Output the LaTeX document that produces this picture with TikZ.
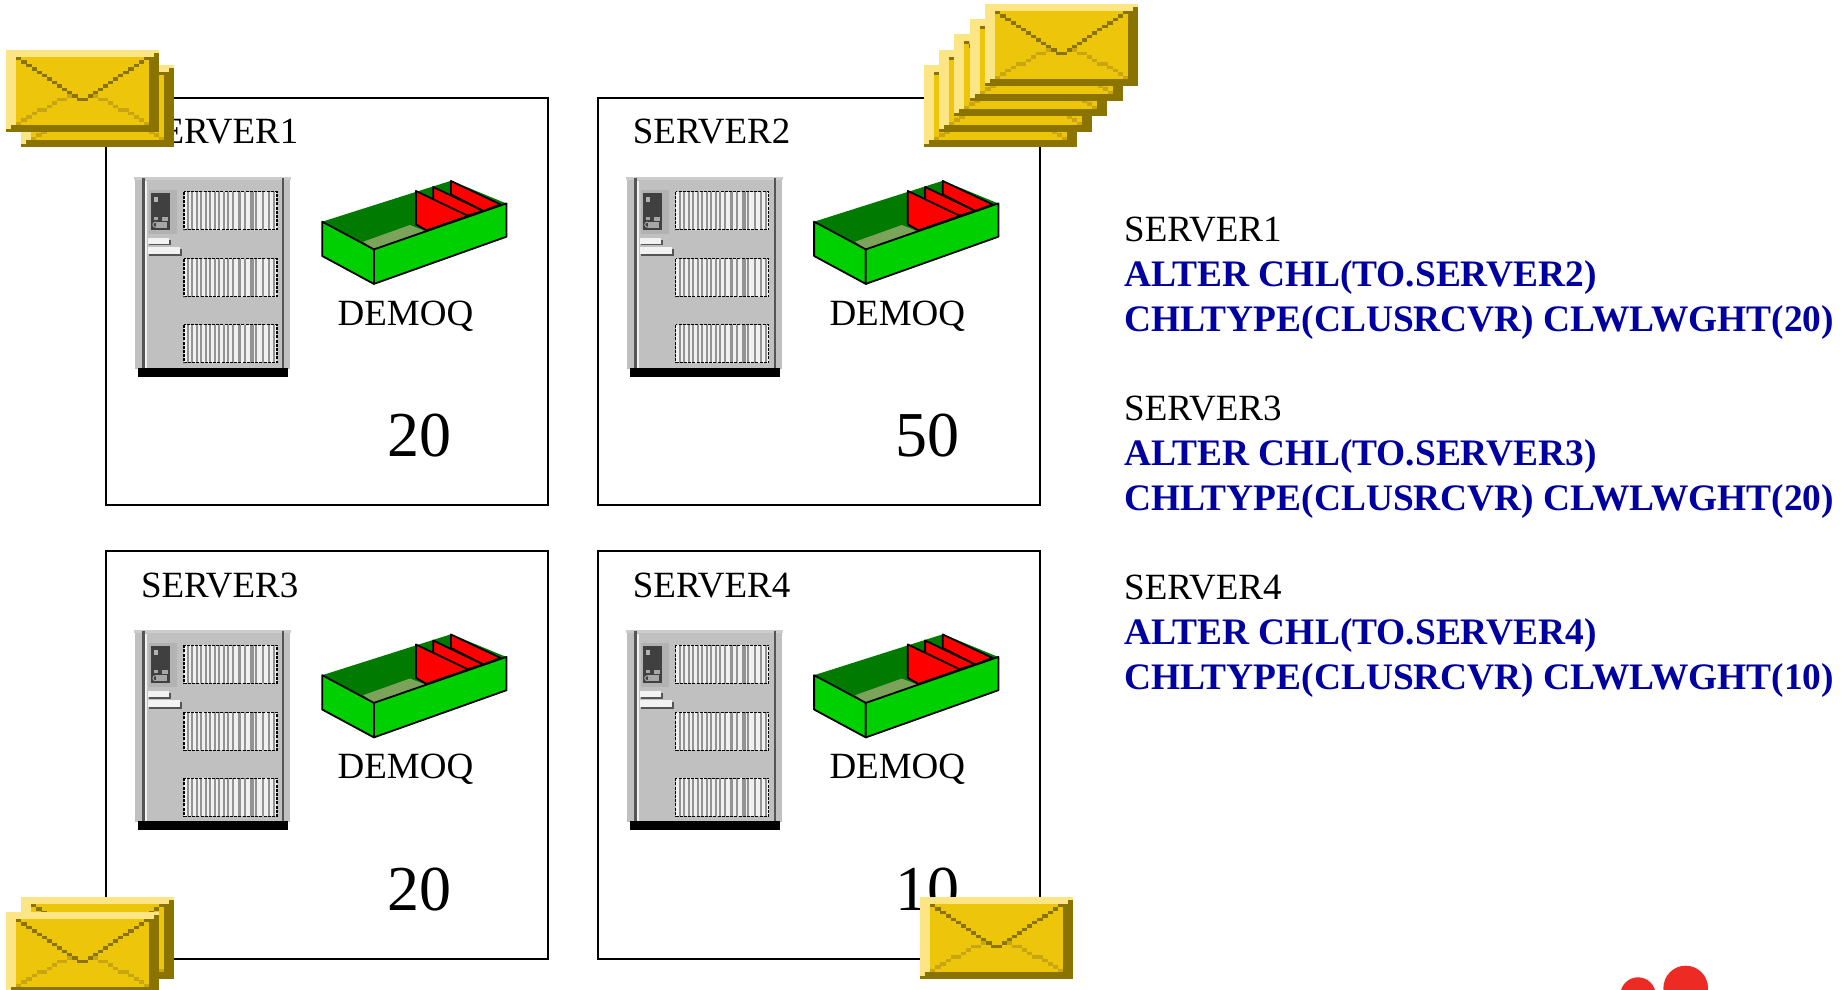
\documentclass[tikz,border=0pt]{standalone}
\usepackage{fontspec}
\setmainfont{Liberation Serif}
\definecolor{envlight}{HTML}{FBE585}
\definecolor{envfill}{HTML}{EDC60B}
\definecolor{envdark}{HTML}{8B7300}
\definecolor{envmid}{HTML}{C9A512}
\definecolor{srvgray}{HTML}{C0C0C0}
\definecolor{srvdark}{HTML}{555555}
\definecolor{traygreen}{HTML}{00D000}
\definecolor{traydark}{HTML}{007A00}
\definecolor{trayfloor}{HTML}{7CA35A}
\definecolor{chlblue}{HTML}{0000A0}
\definecolor{dotred}{HTML}{EE2A24}
\tikzset{
  boxframe/.style={draw=black,line width=2pt,fill=none,inner sep=0pt,anchor=north west,minimum width=442pt,minimum height=407.5pt},
  lbl/.style={inner sep=0pt,anchor=base west,font=\fontsize{37}{40}\selectfont},
  bignum/.style={inner sep=0pt,anchor=base west,font=\fontsize{64}{66}\selectfont},
  blue/.style={inner sep=0pt,anchor=base west,text=chlblue,font=\fontsize{37.4}{40}\selectfont\bfseries},
  trayedge/.style={draw=black,line width=1.8pt,line join=round}
}
\newcommand{\epx}[3]{\fill[#3] ({#1*5.1},{#2*3.42}) rectangle ({(#1+1)*5.1+0.1},{(#2+1)*3.42+0.1});}
\newcommand{\envelope}[2]{%
\begin{scope}[shift={(#1,#2)}]
  \fill[envfill] (0,0) rectangle (153,82.08);
  \fill[envlight] (0,0) rectangle (153,6.84);
  \fill[envlight] (0,0) rectangle (10.2,82.08);
  \fill[envdark] (142.8,6.84) rectangle (153,82.08);
  \fill[envdark] (147.9,3.42) rectangle (153,6.84);
  \fill[envdark] (5.1,75.24) rectangle (153,82.08);
  \fill[envdark] (0,78.66) rectangle (10,82.08);
  \foreach \c in {2,...,13}{\pgfmathtruncatemacro{\m}{29-\c}\epx{\c}{\c}{envdark}\epx{\m}{\c}{envdark}}
  \epx{14}{14}{envdark}\epx{15}{14}{envdark}
  \foreach \c/\r in {12/13,10/14,11/14,9/15,8/16,6/17,7/17,5/18,4/19,3/20,2/21}{\pgfmathtruncatemacro{\m}{29-\c}\epx{\c}{\r}{envmid}\epx{\m}{\r}{envmid}}
\end{scope}}
\newcommand{\grill}[2]{%
\begin{scope}[shift={(#1,#2)}]
  \fill[white!88!gray] (0,0) rectangle (93,38);
  \foreach \g in {3,7.5,12,16.5,21,25.5,30,34.5,39,43.5,48,60,71.5,78,84,89}{\fill[gray!85] (\g,0) rectangle ++(1.8,38);}
  \fill[gray!85] (54,0) rectangle ++(3.5,38);
  \fill[gray!85] (66,0) rectangle ++(4,38);
  \draw[black,line width=1.3pt,dash pattern=on 3pt off 1.2pt] (0,0) rectangle (93,38);
\end{scope}}
\newcommand{\server}[2]{%
\begin{scope}[shift={(#1,#2)}]
  \fill[gray!40] (0,0) rectangle (157,3);
  \fill[srvgray] (1,3) rectangle (155.5,192);
  \fill[black] (3.5,191) rectangle (154,200);
  \fill[srvdark] (8,1) rectangle (10.5,191);
  \fill[white!90!gray] (10.5,4) rectangle (12.5,191);
  \fill[srvdark] (147.5,1) rectangle (150,191);
  \fill[gray!60] (15,13) rectangle (43,57);
  \fill[srvdark!75!black] (17,16) rectangle (36,53);
  \fill[gray!60] (20,20) rectangle (24,25);
  \fill[gray!70] (28,40) rectangle (34,44);
  \fill[gray!70] (20,40) rectangle (24,43);
  \fill[gray!70] (22,45) rectangle (33,51);
  \draw[gray!70,line width=1pt] (21,48) circle (2.5);
  \fill[srvdark] (15,63) rectangle (36.5,68.5);
  \fill[white!90!gray] (14,61) rectangle (35,67);
  \fill[srvdark] (15,72) rectangle (47.5,79);
  \fill[white!90!gray] (14,70) rectangle (46,77);
  \grill{49.5}{15}\grill{49.5}{82}\grill{49.5}{148}
\end{scope}}
\newcommand{\tray}[2]{%
\begin{scope}[shift={(#1,#2)}]
  \fill[traydark] (0,20) -- (129,-21) -- (184,1.7) -- (52,48) -- cycle;
  \fill[trayfloor] (41,40) -- (87.7,23.3) -- (102.7,29.3) -- (51.7,47.7) -- cycle;
  \filldraw[trayedge,fill=red] (128.7,-20.7) -- (178.3,2.7) -- (161,9.3) -- (128.7,-7.3) -- cycle;
  \filldraw[trayedge,fill=red] (111,-14.7) -- (161,9.3) -- (144.3,14.3) -- (111,-0.7) -- cycle;
  \filldraw[trayedge,fill=red] (93.7,-10.7) -- (146,14.3) -- (104.3,28.7) -- (93.7,22.7) -- cycle;
  \filldraw[trayedge,fill=traygreen] (0,20) -- (51.7,47.7) -- (51.7,82.2) -- (0,54.3) -- cycle;
  \filldraw[trayedge,fill=traygreen] (51.7,47.7) -- (184.3,1.7) -- (184.3,35) -- (51.7,82.2) -- cycle;
\end{scope}}
\newcommand{\srvblock}[6]{% name, x, y, label, number, number-offset
  \server{#2+29.6}{#3+80.2}
  \tray{#2+217.4}{#3+105.2}
  \node[boxframe] (#1) at (#2,#3) {};
  \node[lbl] (#1label) at (#2+36,#3+47.2) {#4};
  \node[lbl] (#1queue) at (#2+232.6,#3+228.7) {DEMOQ};
  \node[bignum] (#1weight) at (#2+#6,#3+360.2) {#5};
}
\begin{document}
\begin{tikzpicture}[x=1pt,y=-1pt]
  \useasboundingbox (0,0) rectangle (1847,990);
  \clip (0,0) rectangle (1847,990);
  \fill[white] (0,0) rectangle (1847,990);
  \srvblock{serverone}{104.8}{96.5}{SERVER1}{20}{282}
  \srvblock{servertwo}{596.7}{96.5}{SERVER2}{50}{298.5}
  \srvblock{serverthree}{104.8}{550}{SERVER3}{20}{282}
  \srvblock{serverfour}{596.7}{550}{SERVER4}{10}{298.5}
  \node[lbl] (t1) at (1124,241.8) {SERVER1};
  \node[blue] (t2) at (1124,286.8) {ALTER CHL(TO.SERVER2)};
  \node[blue] (t3) at (1124,331) {CHLTYPE(CLUSRCVR) CLWLWGHT(20)};
  \node[lbl] (t4) at (1124,420.8) {SERVER3};
  \node[blue] (t5) at (1124,465) {ALTER CHL(TO.SERVER3)};
  \node[blue] (t6) at (1124,510) {CHLTYPE(CLUSRCVR) CLWLWGHT(20)};
  \node[lbl] (t7) at (1124,599.8) {SERVER4};
  \node[blue] (t8) at (1124,644) {ALTER CHL(TO.SERVER4)};
  \node[blue] (t9) at (1124,689) {CHLTYPE(CLUSRCVR) CLWLWGHT(10)};
  \envelope{21}{65}\envelope{6}{50}
  \envelope{924}{65}\envelope{939}{50}\envelope{954}{34}\envelope{970}{19}\envelope{985}{4}
  \envelope{21}{897}\envelope{6}{912}
  \envelope{920}{897}
  \fill[dotred] (1638,995) circle (17.7);
  \fill[dotred] (1685.7,988) circle (22.3);
\end{tikzpicture}
\end{document}
